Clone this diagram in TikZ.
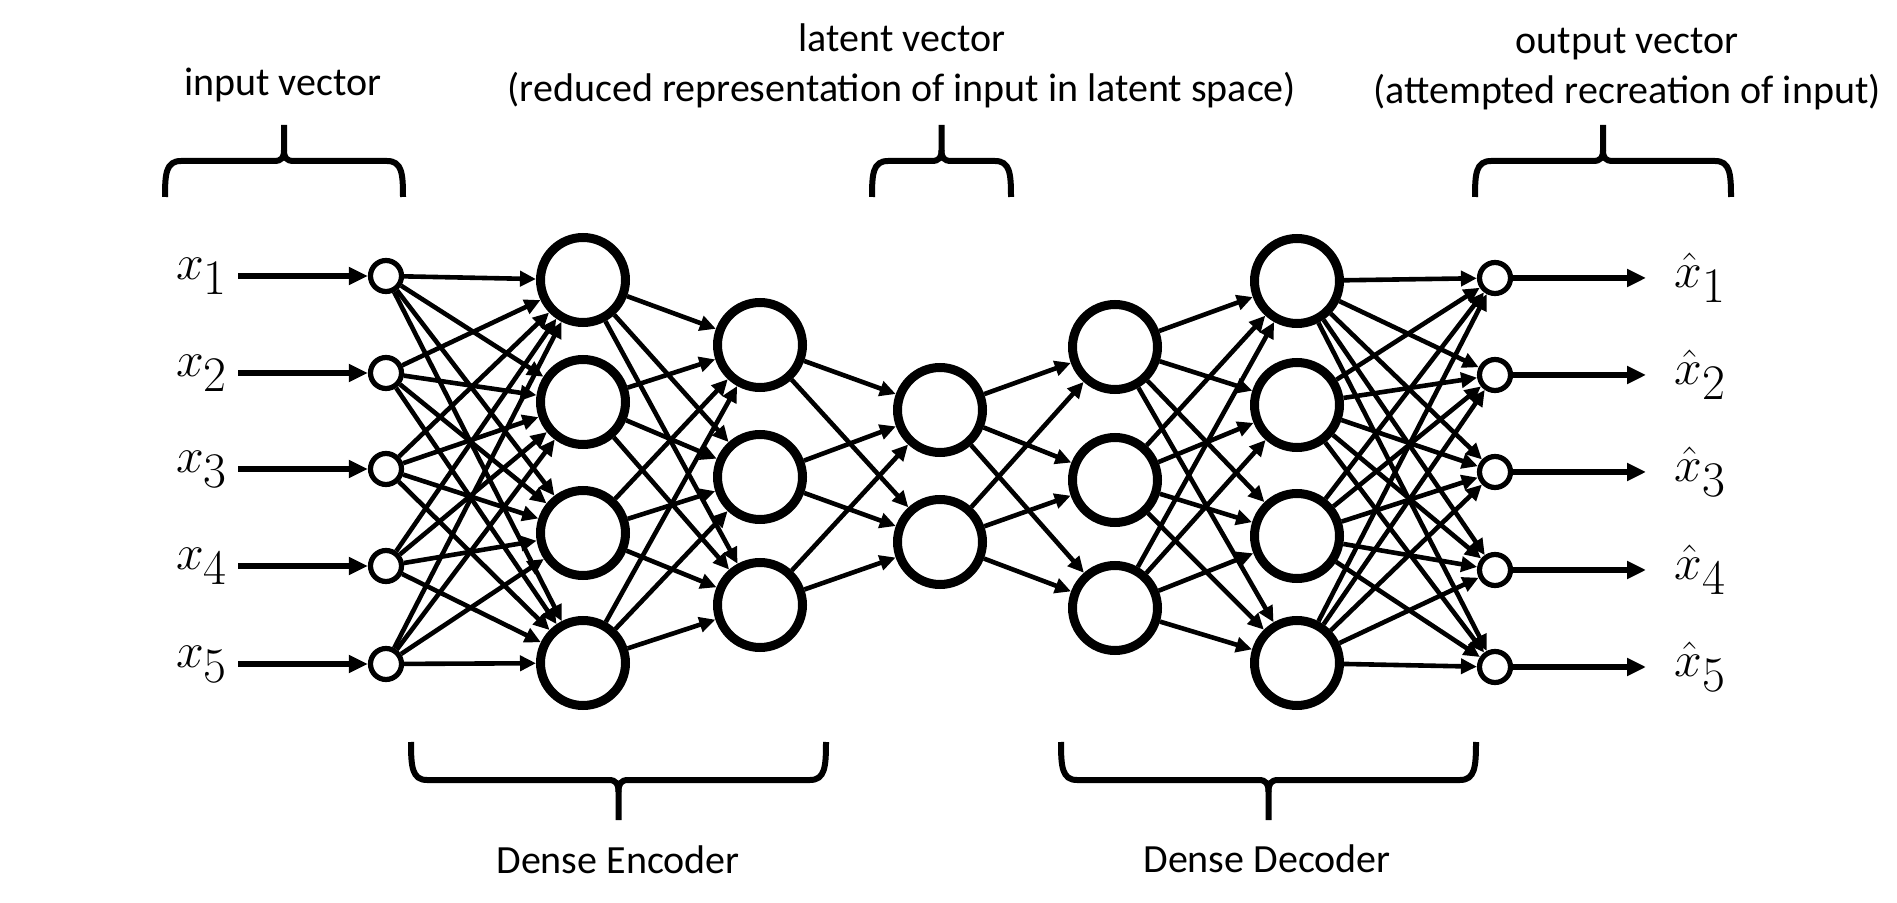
\documentclass[tikz,border=0pt]{standalone}
\usepackage{fontspec}
\setmainfont{Carlito}
\usetikzlibrary{arrows.meta}
\DeclareMathSizes{32}{32}{24}{18}

\tikzset{
  neuron/.style={circle, draw, line width=4.5pt, minimum size=42.5pt, inner sep=0pt},
  port/.style={circle, draw, line width=2.6pt, minimum size=15.5pt, inner sep=0pt},
  link/.style={line width=2.3pt, -{Triangle[length=8pt,width=7.5pt]}},
  feed/.style={line width=2.9pt, -{Triangle[length=9.5pt,width=8.5pt]}},
  bracket/.style={line width=3pt},
  caption/.style={font=\fontsize{20}{25}\selectfont, align=center},
  var/.style={font=\fontsize{32}{36}\selectfont, inner ysep=0pt}
}

% #1 left, #2 right, #3 leg end, #4 bar, #5 tip
\newcommand{\curlybrace}[5]{%
  \draw[bracket] (#1,#3) .. controls (#1,{#4+0.35*(#3-#4)}) and ({#1+1},#4) .. ({#1+16},#4)
    -- ({(#1+#2)/2-10},#4) .. controls ({(#1+#2)/2-2},#4) and ({(#1+#2)/2},{#4+0.1*(#5-#4)}) .. ({(#1+#2)/2},{#4+0.3*(#5-#4)})
    -- ({(#1+#2)/2},#5);
  \draw[bracket] (#2,#3) .. controls (#2,{#4+0.35*(#3-#4)}) and ({#2-1},#4) .. ({#2-16},#4)
    -- ({(#1+#2)/2+10},#4) .. controls ({(#1+#2)/2+2},#4) and ({(#1+#2)/2},{#4+0.1*(#5-#4)}) .. ({(#1+#2)/2},{#4+0.3*(#5-#4)});
}

\begin{document}
\begin{tikzpicture}[x=0.5pt, y=-0.5pt]
  \useasboundingbox (0,0) rectangle (1897,903);

  % layers
  \foreach \i/\y in {1/276,2/373,3/469,4/566,5/664}
    \node[port] (in\i) at (386,\y) {};
  \foreach \i/\y in {1/280,2/402,3/533,4/663}
    \node[neuron] (ea\i) at (583,\y) {};
  \foreach \i/\y in {1/345,2/477,3/605}
    \node[neuron] (eb\i) at (760,\y) {};
  \foreach \i/\y in {1/410,2/542}
    \node[neuron] (z\i) at (940,\y) {};
  \foreach \i/\y in {1/347,2/480,3/608}
    \node[neuron] (da\i) at (1115,\y) {};
  \foreach \i/\y in {1/281,2/405,3/536,4/663}
    \node[neuron] (db\i) at (1297,\y) {};
  \foreach \i/\y in {1/278,2/375,3/472,4/570,5/667}
    \node[port] (out\i) at (1495,\y) {};

  % dense connections
  \foreach \i in {1,...,5} \foreach \j in {1,...,4} \draw[link] (in\i) -- (ea\j);
  \foreach \i in {1,...,4} \foreach \j in {1,...,3} \draw[link] (ea\i) -- (eb\j);
  \foreach \i in {1,...,3} \foreach \j in {1,2} \draw[link] (eb\i) -- (z\j);
  \foreach \i in {1,2} \foreach \j in {1,...,3} \draw[link] (z\i) -- (da\j);
  \foreach \i in {1,...,3} \foreach \j in {1,...,4} \draw[link] (da\i) -- (db\j);
  \foreach \i in {1,...,4} \foreach \j in {1,...,5} \draw[link] (db\i) -- (out\j);

  % inputs and outputs
  \foreach \i in {1,...,5} {
    \node[var, anchor=east, inner xsep=5pt] (lx\i) at (in\i -| 238,0) {$x_{\i}$};
    \draw[feed] (lx\i.east |- in\i) -- (in\i);
    \node[var, anchor=west, inner xsep=14pt] (lxh\i) at (out\i -| 1646,0) {$\hat{x}_{\i}$};
    \draw[feed] (out\i) -- (lxh\i.west |- out\i);
  }

  % braces
  \curlybrace{165}{403}{197}{161}{125}
  \curlybrace{872}{1011}{197}{161}{125}
  \curlybrace{1475}{1731}{197}{161}{125}
  \curlybrace{411}{826}{742}{780}{820}
  \curlybrace{1061}{1476}{742}{780}{820}

  % captions
  \node[caption] (cin) at (283,85) {input vector};
  \node[caption] (clat) at (902,66) {latent vector\\(reduced representation of input in latent space)};
  \node[caption] (cout) at (1627,69) {output vector\\(attempted recreation of input)};
  \node[caption] (cenc) at (618,860) {Dense Encoder};
  \node[caption] (cdec) at (1267,859) {Dense Decoder};
\end{tikzpicture}
\end{document}
